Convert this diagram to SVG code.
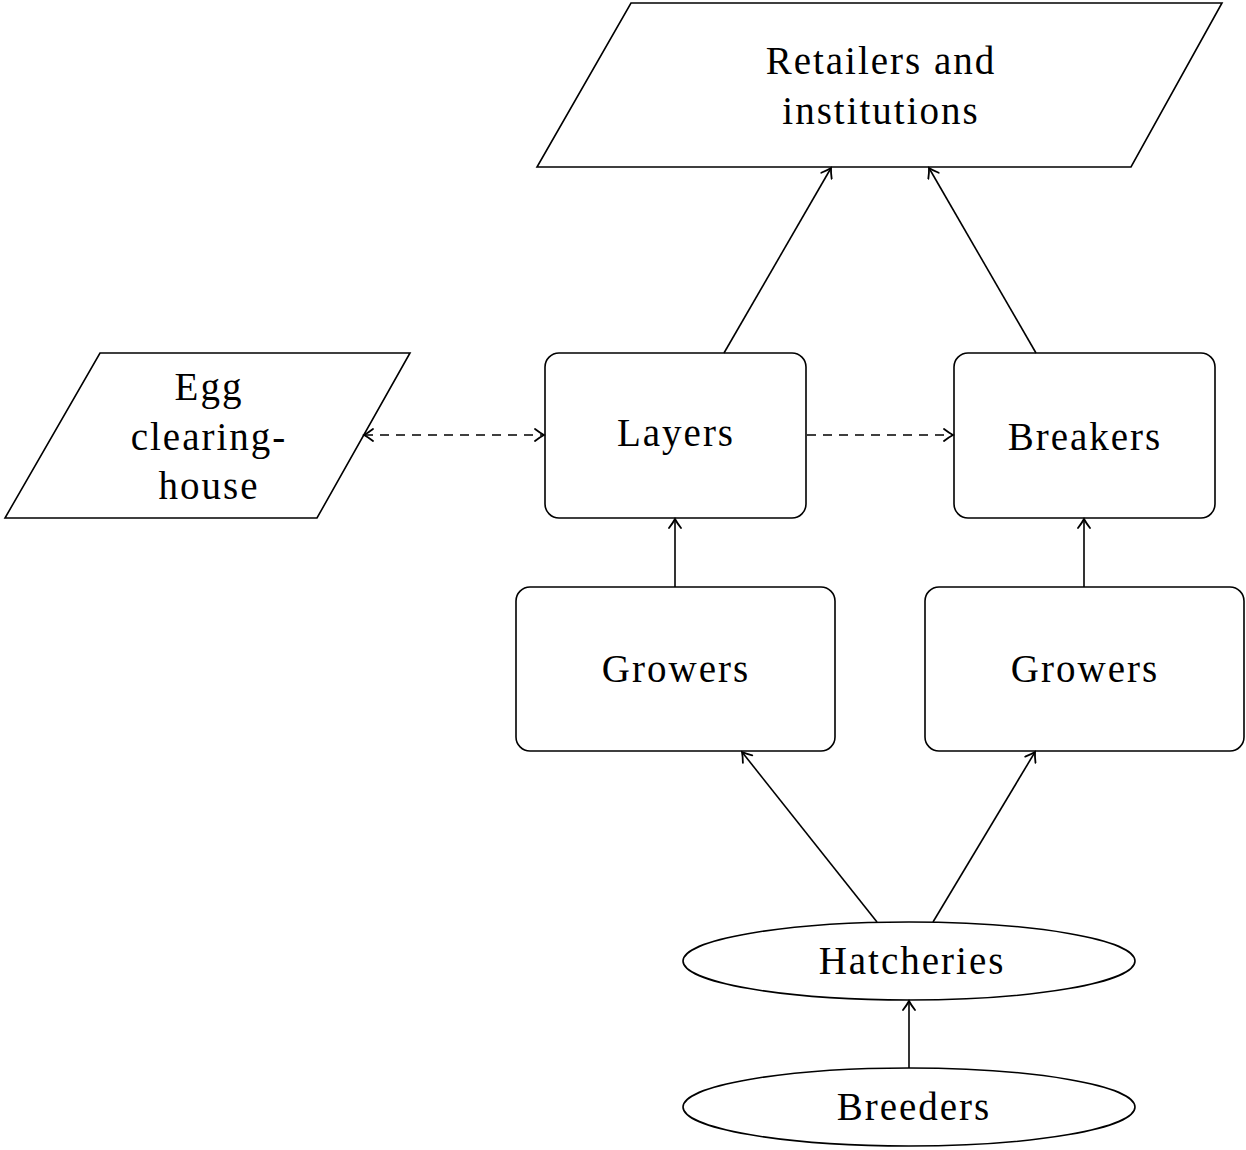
<svg xmlns="http://www.w3.org/2000/svg" width="1246" height="1150" viewBox="0 0 1246 1150">
<style>
.n{fill:#fff;stroke:#000;stroke-width:1.6}
.t{font-family:"Liberation Serif","DejaVu Serif",serif;font-size:39px;letter-spacing:2px;fill:#000;text-anchor:middle}
.c{fill:none;stroke:#000;stroke-width:1.6}
.d{stroke-dasharray:9,7}
</style>
<defs>
<marker id="ah" viewBox="-12 -7 14 14" refX="0" refY="0" markerWidth="14" markerHeight="14" markerUnits="userSpaceOnUse" orient="auto-start-reverse">
<path d="M-9,-6 Q-3.5,-1.8 0,0 Q-3.5,1.8 -9,6" fill="none" stroke="#000" stroke-width="1.8" stroke-linecap="round"/>
</marker>
</defs>
<g id="retailers"><polygon class="n" points="631,3 1222,3 1131,167 537,167"/><text class="t" x="881" y="74">Retailers and</text><text class="t" x="881" y="124">institutions</text></g>
<g id="egg"><polygon class="n" points="100,353 410,353 317,518 5,518"/><text class="t" x="209" y="400">Egg</text><text class="t" x="209" y="450">clearing-</text><text class="t" x="209" y="499">house</text></g>
<g id="layers"><rect class="n" x="545" y="353" width="261" height="165" rx="14"/><text class="t" x="676" y="446">Layers</text></g>
<g id="breakers"><rect class="n" x="954" y="353" width="261" height="165" rx="14"/><text class="t" x="1085" y="450">Breakers</text></g>
<g id="growers1"><rect class="n" x="516" y="587" width="319" height="164" rx="14"/><text class="t" x="676" y="682">Growers</text></g>
<g id="growers2"><rect class="n" x="925" y="587" width="319" height="164" rx="14"/><text class="t" x="1085" y="682">Growers</text></g>
<g id="hatcheries"><ellipse class="n" cx="909" cy="961" rx="226" ry="39"/><text class="t" x="912" y="974">Hatcheries</text></g>
<g id="breeders"><ellipse class="n" cx="909" cy="1107" rx="226" ry="39"/><text class="t" x="914" y="1120">Breeders</text></g>
<g id="connectors">
<line class="c" x1="724" y1="353" x2="831" y2="168" marker-end="url(#ah)"/>
<line class="c" x1="1036" y1="353" x2="929" y2="168" marker-end="url(#ah)"/>
<line class="c d" x1="364" y1="435" x2="544" y2="435" marker-start="url(#ah)" marker-end="url(#ah)"/>
<line class="c d" x1="807" y1="435" x2="953" y2="435" marker-end="url(#ah)"/>
<line class="c" x1="675" y1="587" x2="675" y2="519" marker-end="url(#ah)"/>
<line class="c" x1="1084" y1="587" x2="1084" y2="519" marker-end="url(#ah)"/>
<line class="c" x1="877" y1="922" x2="742" y2="752" marker-end="url(#ah)"/>
<line class="c" x1="933" y1="922" x2="1035" y2="752" marker-end="url(#ah)"/>
<line class="c" x1="909" y1="1068" x2="909" y2="1001" marker-end="url(#ah)"/>
</g>
</svg>
